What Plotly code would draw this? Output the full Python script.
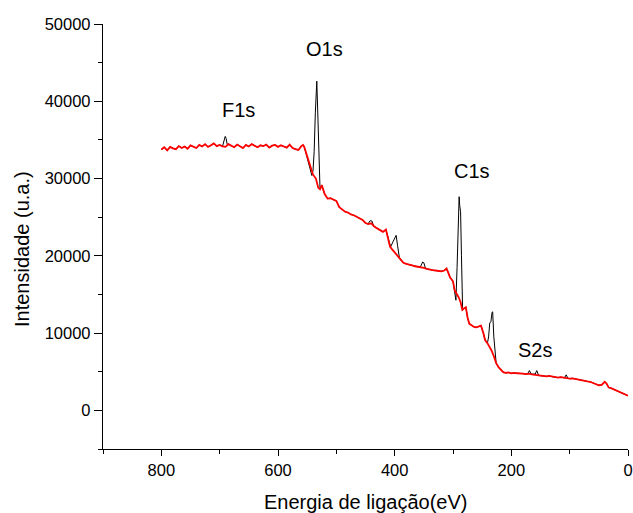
import plotly.graph_objects as go

# Background-like (red) spectrum: binding energy (eV) and intensity (u.a.)
energy = [800, 795, 790, 785, 780, 775, 770, 765, 760, 755, 750, 745, 740, 735, 730, 725,
          720, 715, 710, 705, 700, 695, 690, 685, 680, 675, 670, 665, 660, 655, 650, 645,
          640, 635, 630, 625, 620, 615, 610, 605, 600, 595, 590, 585, 580, 575, 570, 565,
          560, 557, 555, 550, 545, 540, 535, 531, 528, 525, 520, 515, 510, 505, 500, 495,
          490, 485, 480, 475, 470, 465, 460, 455, 450, 445, 440, 435, 430, 425, 420, 415,
          412, 408, 405, 400, 395, 390, 385, 380, 375, 370, 365, 360, 355, 350, 345, 340,
          335, 330, 325, 320, 315, 311, 308, 305, 300, 297, 293, 290, 287, 284, 281, 278,
          275, 272, 268, 264, 260, 256, 252, 248, 245, 241, 237, 234, 230, 226, 222, 218,
          214, 210, 205, 200, 195, 190, 185, 180, 175, 170, 165, 160, 155, 150, 145, 140,
          135, 130, 125, 120, 115, 110, 105, 100, 95, 90, 85, 80, 75, 70, 65, 60,
          55, 50, 45, 40, 37, 33, 30, 25, 20, 15, 10, 5, 0]
red_intensity = [33750, 34050, 33650, 34100, 33900, 33800, 34200, 33950, 34150, 33850, 34300, 34100, 33950, 34350, 34150, 34450,
                 34100, 34300, 34550, 34200, 34350, 34150, 34100, 34450, 34250, 34050, 34400, 34200, 33950, 34350, 34150, 34450,
                 34250, 34050, 34300, 34200, 34400, 34000, 34250, 34350, 34100, 34300, 34150, 34000, 34400, 33950, 33800, 33700,
                 34200, 34350, 34100, 32800, 31500, 30500, 30000, 28800, 28600, 29150, 28000, 27400, 27450, 27250, 27100, 26300,
                 25950, 25700, 25600, 25350, 25250, 25050, 24850, 24650, 24250, 24100, 24200, 23800, 23550, 23300, 23100, 23400,
                 22500, 21200, 20900, 20500, 20000, 19550, 19100, 18950, 18800, 18750, 18650, 18600, 18550, 18450, 18300, 18200,
                 18150, 18100, 18050, 18000, 18100, 18350, 17800, 17200, 16700, 15500, 15000, 14600, 14000, 13000, 13200, 13350,
                 12000, 11200, 11000, 10800, 10750, 10900, 10950, 10000, 9100, 8700, 8200, 7750, 7000, 6100, 5600, 5300,
                 4950, 4850, 4900, 4800, 4850, 4800, 4800, 4750, 4700, 4750, 4650, 4600, 4550, 4500, 4450, 4400,
                 4450, 4350, 4300, 4250, 4300, 4200, 4150, 4100, 4150, 4050, 4000, 3900, 3850, 3750, 3700, 3550,
                 3400, 3250, 3300, 3700, 3500, 2950, 2900, 2750, 2600, 2450, 2300, 2150, 1900]

# Measured (black) spectrum where it departs from the red curve: the photoelectron peaks
peak_energy = [
    [695, 692, 690.5, 689, 687],                                   # F1s
    [542, 540, 538, 536, 534.5, 533.5, 532, 530, 528],              # O1s
    [446, 442, 439, 436],
    [407, 403, 399, 397.5, 395, 392, 390],
    [356, 352, 350, 347],
    [297, 295, 293, 291, 289.5, 288.5, 287, 285.5, 283.5],          # C1s
    [241, 239, 237, 235, 233, 232, 230, 228, 226],
    [172, 169, 166, 159, 156.5, 153],                              # S2s
    [109, 106, 103],
]
peak_intensity = [
    [34200, 35100, 35450, 35200, 34400],
    [30400, 31000, 33500, 38500, 42500, 42600, 39000, 33000, 28700],
    [24100, 24550, 24500, 23850],
    [21150, 21800, 22600, 22650, 21300, 19800, 19550],
    [18560, 19200, 19100, 18350],
    [15500, 14250, 18500, 25500, 27650, 26500, 25700, 20000, 12950],
    [8700, 9500, 11300, 11500, 12700, 12750, 9500, 7200, 6100],
    [4750, 5150, 4700, 4700, 5150, 4500],
    [4200, 4600, 4150],
]

labels = ["F1s", "O1s", "C1s", "S2s"]
label_energy = [668, 520, 268, 159]
label_intensity = [38900, 46800, 31000, 7750]

x_title = "Energia de ligação(eV)"
y_title = "Intensidade (u.a.)"

# assemble black spectrum: red points outside peak windows + peak points
windows = [(min(e), max(e)) for e in peak_energy]
pts = [(e, i) for e, i in zip(energy, red_intensity)
       if not any(lo <= e <= hi for lo, hi in windows)]
for es, iis in zip(peak_energy, peak_intensity):
    pts += list(zip(es, iis))
pts.sort(key=lambda p: -p[0])
black_energy = [p[0] for p in pts]
black_intensity = [p[1] for p in pts]

FONT = "Liberation Sans, Arial, sans-serif"
W, H = 633, 513
ML, MR, MT, MB = 103, 5, 24, 64
PW, PH = W - ML - MR, H - MT - MB

fig = go.Figure()
fig.add_trace(go.Scatter(x=black_energy, y=black_intensity, mode="lines",
                         line=dict(color="black", width=1), showlegend=False))
fig.add_trace(go.Scatter(x=energy, y=red_intensity, mode="lines",
                         line=dict(color="#ff0000", width=1.8), showlegend=False))

for t, x, y in zip(labels, label_energy, label_intensity):
    fig.add_annotation(x=x, y=y, text=t, showarrow=False,
                       font=dict(family=FONT, size=20, color="black"))

# axis titles (paper coords from pixel positions)
fig.add_annotation(xref="paper", yref="paper", x=(365 - ML) / PW, y=(H - MB - 502) / PH,
                   text=x_title, showarrow=False, xanchor="center", yanchor="middle",
                   font=dict(family=FONT, size=20, color="black"))
fig.add_annotation(xref="paper", yref="paper", x=(22 - ML) / PW, y=(H - MB - 249) / PH,
                   text=y_title, showarrow=False, textangle=-90, xanchor="center", yanchor="middle",
                   font=dict(family=FONT, size=20, color="black"))

fig.update_layout(
    width=W, height=H,
    margin=dict(l=ML, r=MR, t=MT, b=MB, autoexpand=False),
    paper_bgcolor="white", plot_bgcolor="white",
    font=dict(family=FONT, color="black"),
    showlegend=False,
)
fig.update_xaxes(
    range=[900, 0], tick0=0, dtick=200, showgrid=False, zeroline=False, automargin=False,
    showline=True, linecolor="black", linewidth=1.3, ticklabeloverflow="allow",
    ticks="outside", ticklen=6, tickwidth=1.3, tickcolor="black",
    tickfont=dict(family=FONT, size=16.5, color="black"),
    minor=dict(dtick=100, tick0=0, ticks="outside", ticklen=4, tickwidth=1.3, tickcolor="black", showgrid=False),
)
fig.update_yaxes(
    range=[-5000, 50000], tick0=0, dtick=10000, tickformat="d", showgrid=False, zeroline=False, automargin=False,
    showline=True, linecolor="black", linewidth=1.3,
    ticks="outside", ticklen=8, tickwidth=1.3, tickcolor="black",
    tickfont=dict(family=FONT, size=16.5, color="black"),
    minor=dict(dtick=5000, tick0=0, ticks="outside", ticklen=4, tickwidth=1.3, tickcolor="black", showgrid=False),
)

fig.write_html("out.html", config={"displayModeBar": False},
               post_script="document.body.style.margin='0';document.body.style.overflow='hidden';")
